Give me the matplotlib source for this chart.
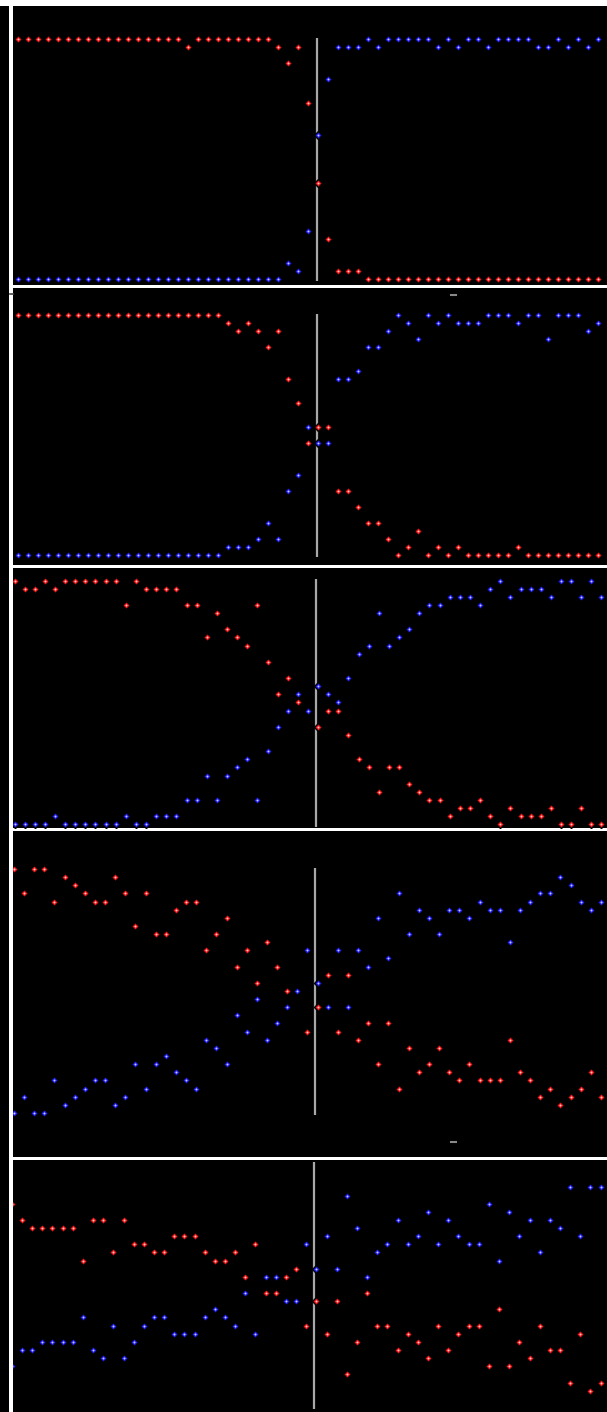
import numpy as np
import matplotlib
matplotlib.use("Agg")
import matplotlib.pyplot as plt
from matplotlib.patches import Rectangle

W, H = 607, 1412
LEVELS = 30

# heights of the red (falling) and blue (rising) series, one value per step, 59 steps
p1_red = [30] * 17 + [29] + [30] * 8 + [29, 27, 29, 22, 12, 5, 1, 1, 1] + [0] * 24
p1_blue = [0] * 27 + [2, 1, 6, 18, 25, 29, 29, 29, 30, 29, 30, 30, 30, 30, 30, 29, 30, 29,
                      30, 30, 29, 30, 30, 30, 30, 29, 29, 30, 29, 30, 29, 30]

p2_red = [30] * 21 + [29, 28, 29, 28, 26, 28, 22, 19, 14, 16, 16, 8, 8, 6, 4, 4, 2, 0, 1, 3,
                      0, 1, 0, 1, 0, 0, 0, 0, 0, 1, 0, 0, 0, 0, 0, 0, 0, 0]
p2_blue = [0] * 21 + [1, 1, 1, 2, 4, 2, 8, 10, 16, 14, 14, 22, 22, 23, 26, 26, 28, 30, 29, 27,
                      30, 29, 30, 29, 29, 29, 30, 30, 30, 29, 30, 30, 27, 30, 30, 30, 28, 29]

p3_red = [30, 29, 29, 30, 29, 30, 30, 30, 30, 30, 30, 27, 30, 29, 29, 29, 29, 27, 27, 23,
          26, 24, 23, 22, 27, 20, 16, 18, 15, 14, 12, 14, 14, 11, 8, 7, 4, 7, 7, 5,
          4, 3, 3, 1, 2, 2, 3, 1, 0, 2, 1, 1, 1, 2, 0, 0, 2, 0, 0]
p3_blue = [0, 0, 0, 0, 1, 0, 0, 0, 0, 0, 0, 1, 0, 0, 1, 1, 1, 3, 3, 6,
           3, 6, 7, 8, 3, 9, 12, 14, 16, 14, 17, 16, 15, 18, 21, 22, 26, 22, 23, 24,
           26, 27, 27, 28, 28, 28, 27, 29, 30, 28, 29, 29, 29, 28, 30, 30, 28, 30, 28]

p4_red = [30, 27, 30, 30, 26, 29, 28, 27, 26, 26, 29, 27, 23, 27, 22, 22, 25, 26, 26, 20,
          22, 24, 18, 20, 16, 21, 18, 15, 15, 10, 13, 17, 10, 17, 9, 11, 6, 11, 3, 8,
          5, 6, 8, 5, 4, 6, 4, 4, 4, 9, 5, 4, 2, 3, 1, 2, 3, 5, 2]
p4_blue = [0, 2, 0, 0, 4, 1, 2, 3, 4, 4, 1, 2, 6, 3, 6, 7, 5, 4, 3, 9,
           8, 6, 12, 10, 14, 9, 11, 13, 15, 20, 16, 13, 20, 13, 20, 18, 24, 19, 27, 22,
           25, 24, 22, 25, 25, 24, 26, 25, 25, 21, 25, 26, 27, 27, 29, 28, 26, 25, 26]

p5_red = [25, 23, 22, 22, 22, 22, 22, 18, 23, 23, 19, 23, 20, 20, 19, 19, 21, 21, 21, 19,
          18, 18, 19, 16, 20, 14, 14, 16, 17, 10, 13, 9, 13, 4, 8, 14, 10, 10, 7, 9,
          8, 6, 10, 7, 9, 10, 10, 5, 12, 5, 8, 6, 10, 7, 7, 3, 9, 2, 3]
p5_blue = [5, 7, 7, 8, 8, 8, 8, 11, 7, 6, 10, 6, 8, 10, 11, 11, 9, 9, 9, 11,
           12, 11, 10, 14, 9, 16, 16, 13, 13, 20, 17, 21, 17, 26, 22, 16, 19, 20, 23, 20,
           21, 24, 20, 23, 21, 20, 20, 25, 18, 24, 21, 23, 19, 23, 22, 27, 21, 27, 27]

# (top, bottom) of each strip in pixels, and where step 0 / the top level sit inside it
panels = [
    (p1_red, p1_blue, 6.0, 284.5, 18.0, 10.0, 39.0, 8.0, 29.85),
    (p2_red, p2_blue, 287.8, 564.8, 18.0, 10.0, 315.0, 8.0, 29.85),
    (p3_red, p3_blue, 567.8, 828.0, 14.5, 10.12, 580.5, 8.13, 29.75),
    (p4_red, p4_blue, 831.0, 1157.0, 14.0, 10.12, 869.0, 8.13, 29.75),
    (p5_red, p5_blue, 1160.0, 1412.0, 11.85, 10.15, 1163.0, 8.13, 29.77),
]

fig = plt.figure(figsize=(W / 100, H / 100), dpi=100, facecolor="black")

# white frame lines drawn in pixel space
bg = fig.add_axes([0, 0, 1, 1])
bg.set_xlim(0, W)
bg.set_ylim(H, 0)
bg.axis("off")
bg.add_patch(Rectangle((0, 0), W, 6, color="white", lw=0))
bg.add_patch(Rectangle((9, 0), 4, H, color="white", lw=0))
for y0, y1 in [(284.5, 287.8), (564.8, 567.8), (828.0, 831.0), (1157.0, 1160.0)]:
    bg.add_patch(Rectangle((13, y0), W - 13, y1 - y0, color="white", lw=0))
bg.plot([451, 456], [295, 295], color="#888888", lw=1.5)
bg.plot([451, 456], [1142, 1142], color="#888888", lw=1.5)
bg.plot([10, 13], [294, 294], color="#444444", lw=1.2)

for red, blue, top, bottom, x0, dx, y0, dy, kline in panels:
    ax = fig.add_axes([13 / W, 1 - bottom / H, (W - 13) / W, (bottom - top) / H])
    ax.set_xlim((13 - x0) / dx, (W - x0) / dx)
    ax.set_ylim(LEVELS - (bottom - y0) / dy, LEVELS - (top - y0) / dy)
    ax.axis("off")
    k = np.arange(len(red))
    ax.vlines(kline, -0.3, LEVELS + 0.15, color="#a8a8a8", lw=1.6, zorder=1)
    z = 2
    for vals, col, core in ((red, "#f01414", "#ffd0d0"), (blue, "#1e1ef0", "#d0d0ff")):
        ax.plot(k, vals, "D", ms=4.5, mfc=col, mec="black", mew=1.0, zorder=z)
        ax.plot(k, vals, "o", ms=1.4, color=core, mew=0, zorder=z + 0.1)
        z += 0.2

fig.savefig("out.png", dpi=100, facecolor="black")
